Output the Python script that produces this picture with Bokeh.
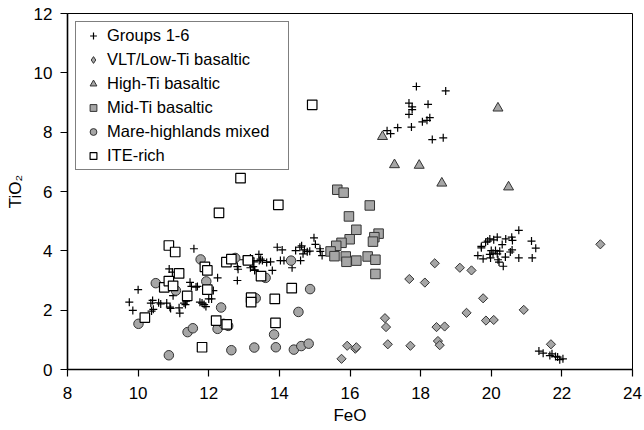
import numpy as np
from bokeh.plotting import figure
from bokeh.models import Legend, LegendItem, FixedTicker, Range1d, ColumnDataSource, CDSView, IndexFilter
from bokeh.embed import file_html
from bokeh.resources import INLINE

# ---- data (FeO, TiO2) ----
groups_feo = [10.00, 9.75, 9.85, 10.36, 10.41, 10.38, 10.43, 10.58, 10.64, 10.81, 10.90, 10.92,
              10.88, 10.97, 10.99, 11.16, 11.18, 11.30, 11.36, 11.34, 11.40, 11.47, 11.51, 11.64,
              11.68, 11.58, 11.75, 11.81, 11.87, 11.92, 12.00, 12.08, 12.13, 12.25, 12.81, 12.81,
              12.83, 12.98, 13.21, 13.26, 13.30, 13.43, 13.18, 13.28, 13.42, 13.47, 13.52, 13.64,
              13.75, 13.18, 13.30, 13.80, 13.94, 14.08, 14.03, 14.13, 14.36, 14.46, 14.58, 14.63,
              14.71, 14.67, 14.79, 14.86, 14.98, 15.02, 15.15, 15.16, 15.21, 14.60,
              17.88, 18.71, 17.67, 18.21, 17.76, 17.76, 17.67, 18.26, 18.18, 18.05, 17.74, 18.33,
              18.64, 17.05, 17.15, 17.35,
              20.78, 19.96, 19.90, 19.84, 20.07, 20.17, 20.41, 20.58, 20.60, 19.72, 19.72, 20.31,
              20.00, 20.12, 20.24, 20.17, 20.05, 19.96, 20.59, 20.54, 20.40, 20.19, 20.22, 20.34,
              19.62, 19.77, 19.98, 20.78, 21.14, 21.26, 21.16,
              21.35, 21.47, 21.66, 21.72, 21.82, 21.88, 21.94, 22.03]
groups_tio2 = [2.69, 2.27, 1.99, 2.24, 2.33, 1.97, 2.03, 2.25, 2.21, 2.24, 2.10, 2.06,
               3.39, 3.28, 2.49, 2.08, 1.90, 2.24, 2.30, 2.19, 2.40, 2.94, 2.80, 2.78,
               2.80, 4.07, 2.27, 2.24, 2.19, 2.12, 2.38, 2.38, 2.66, 3.09, 3.00, 3.47,
               3.38, 3.70, 3.67, 3.47, 3.36, 3.67, 3.76, 3.63, 3.88, 3.72, 3.67, 3.61,
               3.63, 3.43, 3.34, 3.34, 4.12, 4.03, 3.67, 3.67, 3.43, 4.01, 4.12, 4.17,
               4.03, 3.90, 3.97, 3.99, 4.44, 4.22, 4.07, 3.98, 3.84, 3.67,
               9.54, 9.39, 8.98, 8.94, 8.85, 8.76, 8.60, 8.49, 8.40, 8.35, 8.17, 7.75,
               7.81, 8.05, 7.95, 8.15,
               4.69, 4.40, 4.33, 4.29, 4.37, 4.46, 4.40, 4.46, 4.35, 4.15, 4.10, 4.21,
               4.01, 4.01, 3.99, 3.90, 3.92, 3.88, 4.03, 3.96, 3.79, 3.70, 3.62, 3.48,
               3.84, 3.73, 3.76, 3.76, 4.33, 4.09, 3.76,
               0.62, 0.55, 0.47, 0.53, 0.44, 0.42, 0.33, 0.36]

vlt_feo = [15.76, 15.92, 16.15, 16.18, 16.99, 17.02, 17.07, 17.68, 17.71, 18.12, 18.40, 18.45,
           18.49, 18.54, 18.68, 19.11, 19.30, 19.44, 19.77, 19.85, 20.07, 20.92, 21.69, 23.09]
vlt_tio2 = [0.36, 0.80, 0.70, 0.75, 1.73, 1.43, 0.85, 3.05, 0.80, 2.93, 3.58, 1.43,
            0.96, 0.82, 1.45, 3.43, 1.91, 3.34, 2.40, 1.65, 1.67, 2.01, 0.85, 4.22]

highti_feo = [16.92, 17.26, 17.96, 18.60, 20.19, 20.49]
highti_tio2 = [7.85, 6.90, 6.88, 6.28, 8.81, 6.15]

midti_feo = [15.64, 15.82, 16.56, 15.97, 16.18, 16.81, 16.69, 16.65, 15.99, 15.76, 15.61, 15.45,
             15.56, 15.88, 15.90, 16.18, 16.50, 16.72, 16.72]
midti_tio2 = [6.06, 5.96, 5.53, 5.16, 4.71, 4.58, 4.46, 4.31, 4.39, 4.27, 4.17, 3.98,
              3.82, 3.81, 3.63, 3.67, 3.81, 3.70, 3.22]

mare_feo = [10.01, 10.50, 11.07, 10.87, 11.40, 11.55, 11.77, 11.93, 12.35, 12.25, 12.42, 12.55,
            12.64, 12.75, 13.33, 14.33, 13.61, 14.87, 14.54, 13.85, 13.29, 13.90, 14.41, 14.62, 14.83]
mare_tio2 = [1.54, 2.91, 2.66, 0.48, 1.26, 1.39, 3.71, 2.97, 2.09, 1.37, 1.54, 1.47,
             0.65, 3.76, 2.40, 3.67, 3.09, 2.71, 1.94, 1.18, 0.74, 0.75, 0.67, 0.79, 0.87]

ite_feo = [10.19, 10.74, 10.87, 10.99, 10.87, 11.05, 11.16, 11.39, 11.81, 11.89, 11.96, 11.96,
           12.21, 12.51, 12.29, 12.50, 12.64, 12.90, 13.11, 13.20, 13.20, 13.48, 13.87, 13.89,
           13.97, 14.35, 14.93]
ite_tio2 = [1.75, 2.77, 2.98, 2.82, 4.18, 3.96, 3.24, 2.48, 0.75, 3.46, 3.34, 2.69,
            1.65, 1.52, 5.28, 3.62, 3.72, 6.45, 3.68, 2.42, 2.27, 3.15, 2.38, 1.57,
            5.55, 2.74, 8.92]

x_ticks = [8, 10, 12, 14, 16, 18, 20, 22, 24]
y_ticks = [0, 2, 4, 6, 8, 10, 12]

FONT = "Liberation Sans"
GREY = "#a6a6a6"
EDGE = "#333333"

p = figure(width=644, height=430, output_backend="svg", toolbar_location=None,
           x_range=Range1d(8, 24), y_range=Range1d(0, 12),
           min_border_left=67, min_border_right=12, min_border_top=13, min_border_bottom=61)
p.grid.visible = False
p.outline_line_color = "black"
p.outline_line_width = 1
p.background_fill_color = "white"
p.border_fill_color = "white"

for ax, ticks in ((p.xaxis, x_ticks), (p.yaxis, y_ticks)):
    ax.ticker = FixedTicker(ticks=ticks)
    ax.minor_tick_line_color = None
    ax.major_tick_out = 7
    ax.major_tick_in = 0
    ax.axis_line_width = 1.6
    ax.major_tick_line_width = 1.2
    ax.major_label_text_font = FONT
    ax.major_label_text_font_size = "17px"
    ax.major_label_text_color = "black"
    ax.axis_label_text_font = FONT
    ax.axis_label_text_font_size = "17px"
    ax.axis_label_text_font_style = "normal"
    ax.axis_label_text_color = "black"

p.xaxis.axis_label = "FeO"
p.yaxis.axis_label = "TiO\u2082"
p.xaxis.major_label_standoff = 10
p.yaxis.major_label_standoff = 8
p.xaxis.axis_label_standoff = 4
p.yaxis.axis_label_standoff = 6

vlt_src = ColumnDataSource(data=dict(x=vlt_feo, y=vlt_tio2))
# legend-only glyph for the diamonds (legend does not rotate markers); tiny, hidden under a real point
r_vlt_leg = p.scatter("x", "y", source=vlt_src, view=CDSView(filter=IndexFilter(indices=[0])),
                      marker="diamond", size=0.5, fill_color=GREY, line_color=EDGE, line_width=1)

r_groups = p.scatter(groups_feo, groups_tio2, marker="cross", size=8, line_color="black", line_width=1.2)
r_vlt = p.scatter("x", "y", source=vlt_src, marker="square", angle=np.pi / 4, size=6.5,
                  fill_color=GREY, line_color=EDGE, line_width=1)
r_high = p.scatter(highti_feo, highti_tio2, marker="triangle", size=10,
                   fill_color=GREY, line_color=EDGE, line_width=1)
r_mid = p.scatter(midti_feo, midti_tio2, marker="square", size=9.5,
                  fill_color=GREY, line_color=EDGE, line_width=1)
r_mare = p.scatter(mare_feo, mare_tio2, marker="circle", size=9.5,
                   fill_color=GREY, line_color=EDGE, line_width=1)
r_ite = p.scatter(ite_feo, ite_tio2, marker="square", size=9.5,
                  fill_color="white", line_color="black", line_width=1.2)

legend = Legend(items=[
    LegendItem(label="Groups 1-6", renderers=[r_groups]),
    LegendItem(label="VLT/Low-Ti basaltic", renderers=[r_vlt_leg]),
    LegendItem(label="High-Ti basaltic", renderers=[r_high]),
    LegendItem(label="Mid-Ti basaltic", renderers=[r_mid]),
    LegendItem(label="Mare-highlands mixed", renderers=[r_mare]),
    LegendItem(label="ITE-rich", renderers=[r_ite]),
], location="top_left", margin=8, padding=4, spacing=5,
    glyph_width=26, glyph_height=17, label_height=19, label_width=177, label_standoff=1,
    label_text_font=FONT, label_text_font_size="16.5px", label_text_color="black",
    border_line_color="black", border_line_width=1, background_fill_alpha=1)
p.add_layout(legend)

open("out.html", "w").write(file_html(p, INLINE))
